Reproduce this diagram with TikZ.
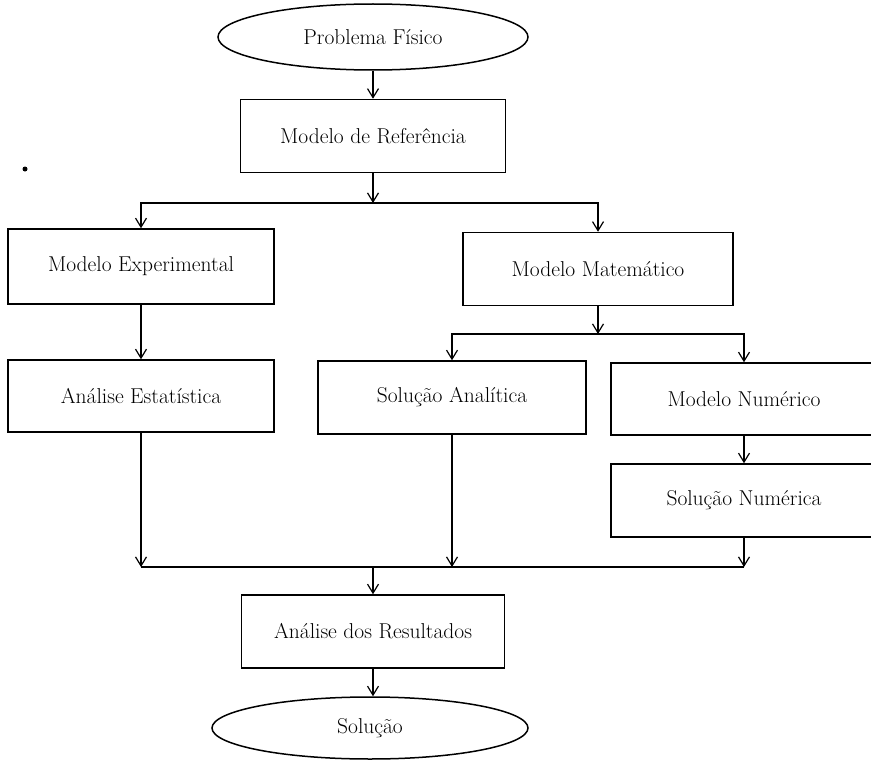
\documentclass[tikz,border=0pt]{standalone}
\usetikzlibrary{arrows.meta,shapes.geometric}
\begin{document}
\begin{tikzpicture}[x=1pt,y=-1pt,
  box/.style={draw, line width=1.5pt, minimum width=266pt, minimum height=73pt,
    inner sep=0pt, font=\fontsize{21.5}{25}\selectfont},
  oval/.style={draw, ellipse, line width=1.5pt, inner sep=0pt,
    font=\fontsize{21.5}{25}\selectfont},
  arr/.style={line width=1.2pt, -{Straight Barb[length=9pt,width=11pt,line width=1.2pt]}},
  wire/.style={line width=1.2pt}]
\clip (0,0) rectangle (871,760);
\fill[white] (0,0) rectangle (871,760);

% boxes and terminals
\node[oval, minimum width=310pt, minimum height=66pt] (pf) at (373,37) {Problema Físico};
\node[box, minimum width=265pt] (ref) at (373,136) {Modelo de Referência};
\node[box, minimum height=75pt] (exp) at (141,266.5) {Modelo Experimental};
\node[box, minimum width=270pt] (mat) at (598,269) {Modelo Matemático};
\node[box, minimum height=72pt] (est) at (141,396) {Análise Estatística};
\node[box, minimum width=268pt] (ana) at (452,397.5) {Solução Analítica};
\node[box, minimum height=72pt] (num) at (744,399) {Modelo Numérico};
\node[box] (sn) at (744,500.5) {Solução Numérica};
\node[box, minimum width=263pt] (res) at (373,631.5) {Análise dos Resultados};
\node[oval, minimum width=316pt, minimum height=62pt] (sol) at (370,728) {Solução};

% branching points
\coordinate (b1) at (373,203);
\coordinate (b2) at (598,334);
\coordinate (b3) at (373,567);

% connectors
\draw[arr] (pf) -- (ref);
\draw[arr] (ref) -- (b1);
\draw[arr] (b1) -| (exp);
\draw[arr] (b1) -| (mat);
\draw[arr] (exp) -- (est);
\draw[arr] (mat) -- (b2);
\draw[arr] (b2) -| (ana);
\draw[arr] (b2) -| (num);
\draw[arr] (num) -- (sn);
\draw[arr] (est.south) -- (est.south |- b3);
\draw[arr] (ana.south) -- (ana.south |- b3);
\draw[arr] (sn.south) -- (sn.south |- b3);
\draw[wire] (est.south |- b3) -- (sn.south |- b3);
\draw[arr] (b3) -- (res);
\draw[arr] (res.south) -- (res.south |- sol.north);

% stray mark at the left margin
\fill (25,169) circle (2.5pt);
\end{tikzpicture}
\end{document}
